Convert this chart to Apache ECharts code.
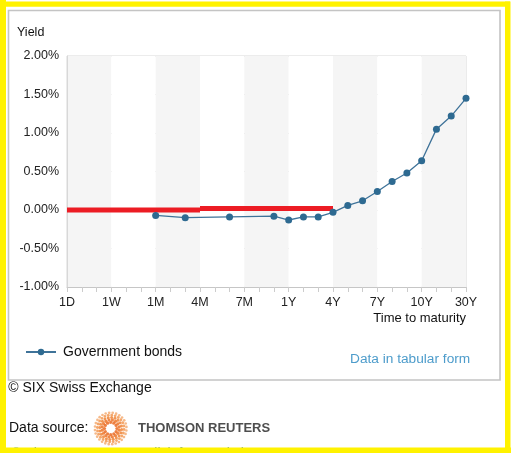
<!DOCTYPE html>
<html>
<head>
<meta charset="utf-8">
<script src="https://cdn.jsdelivr.net/npm/echarts@6.0.0/dist/echarts.min.js"></script>
<style>
  html, body { margin: 0; padding: 0; background: #ffffff; }
  #chart { width: 511px; height: 453px; }
</style>
</head>
<body>
<div id="chart"></div>
<script>
// ---- Data ----
const categories = ['1D','2D','3D','1W','2W','3W','1M','2M','3M','4M','5M','6M','7M','8M','9M','1Y','2Y','3Y','4Y','5Y','6Y','7Y','8Y','9Y','10Y','15Y','20Y','30Y'];
const govBondYields = [null, null, null, null, null, null, -0.07, null, -0.10, null, null, -0.09, null, null, -0.08, -0.13, -0.09, -0.09, -0.03, 0.06, 0.12, 0.24, 0.37, 0.48, 0.64, 1.05, 1.22, 1.45];
const refRateShort = [0, 0, 0, 0, 0, 0, 0, 0, 0, 0, null, null, null, null, null, null, null, null, null, null, null, null, null, null, null, null, null, null];
const refRateLong = [null, null, null, null, null, null, null, null, null, 0.02, 0.02, 0.02, 0.02, 0.02, 0.02, 0.02, 0.02, 0.02, 0.02, null, null, null, null, null, null, null, null, null];
const yTicks = { min: -1, max: 2, interval: 0.5 };

const FONT = '"Liberation Sans", Arial, Helvetica, sans-serif';
const chart = echarts.init(document.getElementById('chart'), null, { renderer: 'canvas' });

// logo: dotted rings (decorative)
const LOGO_CX = 110.7, LOGO_CY = 428.5;
const ringDefs = [
  { r: 6.2, n: 12, color: '#ea6a22', dot: 1.6 },
  { r: 8.6, n: 16, color: '#ec7429', dot: 1.6 },
  { r: 11.0, n: 20, color: '#ef8236', dot: 1.5 },
  { r: 13.4, n: 24, color: '#f29650', dot: 1.45 },
  { r: 15.8, n: 28, color: '#f5ad74', dot: 1.35 }
];
const logoDots = [];
ringDefs.forEach((d, k) => {
  for (let i = 0; i < d.n; i++) {
    const a = (i / d.n) * Math.PI * 2 + k * 0.2;
    logoDots.push({
      type: 'circle',
      shape: { cx: LOGO_CX + d.r * Math.cos(a), cy: LOGO_CY + d.r * Math.sin(a), r: d.dot },
      style: { fill: d.color, opacity: 0.85 },
      z: 10, silent: true
    });
  }
});

const redLine = { color: '#ec1c24', width: 5, cap: 'butt' };

chart.setOption({
  animation: false,
  backgroundColor: '#ffffff',
  textStyle: { fontFamily: FONT },
  grid: {
    left: 67, right: 45, top: 56, bottom: 166,
    show: true, borderColor: '#d8d8d8', borderWidth: 1, backgroundColor: 'transparent'
  },
  legend: {
    left: 20, top: 340,
    itemWidth: 30, itemHeight: 8,
    data: ['Government bonds'],
    textStyle: { fontFamily: FONT, fontSize: 14, color: '#111', padding: [0, 0, 0, 2] }
  },
  xAxis: {
    type: 'category',
    data: categories,
    boundaryGap: false,
    axisLine: { show: true, onZero: false, lineStyle: { color: '#c6c6c6', width: 1 } },
    axisTick: { show: true, interval: 0, length: 5, lineStyle: { color: '#cccccc' } },
    axisLabel: { interval: 2, margin: 9, fontFamily: FONT, fontSize: 12.5, color: '#222' },
    splitLine: { show: false },
    splitArea: { show: true, interval: 2, areaStyle: { color: ['#f5f5f5', '#ffffff'] } }
  },
  yAxis: {
    type: 'value',
    min: yTicks.min, max: yTicks.max, interval: yTicks.interval,
    axisLine: { show: true, lineStyle: { color: '#d8d8d8' } },
    axisTick: { show: false },
    axisLabel: {
      margin: 8, fontFamily: FONT, fontSize: 12.5, color: '#222',
      formatter: v => v.toFixed(2) + '%'
    },
    splitLine: { show: true, lineStyle: { color: '#d2d2d2', width: 1 } }
  },
  series: [
    {
      name: 'Reference rate short',
      type: 'line', data: refRateShort, symbol: 'none',
      lineStyle: redLine, itemStyle: { color: '#ec1c24' }, z: 2, silent: true
    },
    {
      name: 'Reference rate long',
      type: 'line', data: refRateLong, symbol: 'none',
      lineStyle: redLine, itemStyle: { color: '#ec1c24' }, z: 2, silent: true
    },
    {
      name: 'Government bonds',
      type: 'line',
      data: govBondYields,
      connectNulls: true,
      symbol: 'circle',
      symbolSize: 7,
      lineStyle: { color: '#3f7399', width: 1.3 },
      itemStyle: { color: '#2e6a91' },
      z: 3
    }
  ],
  graphic: [
    { type: 'rect', shape: { x: 8.5, y: 10.5, width: 491.5, height: 369.5 },
      style: { fill: 'none', stroke: '#c4c4c4', lineWidth: 1.6 }, z: -1, silent: true },
    { type: 'text', x: 17, y: 33,
      style: { text: 'Yield', font: '12.5px ' + FONT, fill: '#111', verticalAlign: 'middle', align: 'left' }, z: 10 },
    { type: 'text', x: 466, y: 318,
      style: { text: 'Time to maturity', font: '13px ' + FONT, fill: '#111', verticalAlign: 'middle', align: 'right' }, z: 10 },
    { type: 'text', x: 350, y: 359.5,
      style: { text: 'Data in tabular form', font: '13.7px ' + FONT, fill: '#4d9ccb', verticalAlign: 'middle', align: 'left' }, z: 10 },
    { type: 'text', x: 8.3, y: 388,
      style: { text: '\u00A9 SIX Swiss Exchange', font: '14px ' + FONT, fill: '#111', verticalAlign: 'middle', align: 'left' }, z: 10 },
    { type: 'text', x: 9, y: 428.5,
      style: { text: 'Data source:', font: '14px ' + FONT, fill: '#111', verticalAlign: 'middle', align: 'left' }, z: 10 },
    ...logoDots,
    { type: 'text', x: 138, y: 428.5,
      style: { text: 'THOMSON REUTERS', font: 'bold 13px ' + FONT, fill: '#4e4e4e', verticalAlign: 'middle', align: 'left' }, z: 10 },
    { type: 'text', x: 11, y: 447,
      style: { text: '\u00A9 Thomson Reuters. Click for restrictions.', font: '14px ' + FONT, fill: '#4a8fc0', verticalAlign: 'top', align: 'left' }, z: 10 },
    // yellow frame
    { type: 'rect', shape: { x: 0, y: 0, width: 6, height: 453 }, style: { fill: '#fff200' }, z: 100, silent: true },
    { type: 'rect', shape: { x: 0, y: 1.5, width: 510, height: 5.2 }, style: { fill: '#fff200' }, z: 100, silent: true },
    { type: 'rect', shape: { x: 505, y: 1.5, width: 5.5, height: 451.5 }, style: { fill: '#fff200' }, z: 100, silent: true },
    { type: 'rect', shape: { x: 0, y: 447.5, width: 511, height: 5.5 }, style: { fill: '#fff200' }, z: 100, silent: true }
  ]
});
</script>
</body>
</html>
